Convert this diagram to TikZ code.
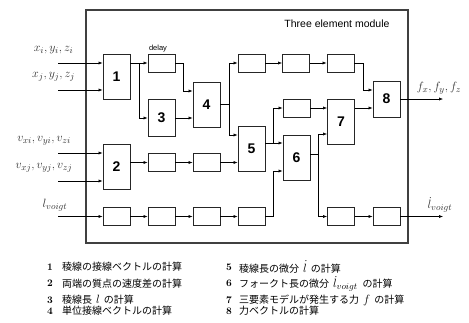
\documentclass[tikz,border=0pt]{standalone}
\usepackage{fontspec}
\newfontfamily\jp{Noto Sans CJK JP}
\newfontfamily\hel{Liberation Sans}
\usetikzlibrary{arrows.meta,calc}
\begin{document}
\begin{tikzpicture}[x=1pt,y=-1pt,
  blk/.style={draw=black!85, line width=0.9pt, minimum width=27pt, minimum height=45pt, inner sep=0pt,
    font=\hel\bfseries\fontsize{14}{14}\selectfont},
  sbox/.style={draw=black!85, line width=0.9pt, minimum width=27pt, minimum height=18pt, inner sep=0pt},
  conn/.style={line width=0.6pt, -{Latex[length=4pt,width=3.2pt]}},
  wire/.style={line width=0.6pt},
  mlab/.style={font=\fontsize{13}{15}\selectfont, inner sep=0pt, text=black!80},
  legnum/.style={anchor=west, inner sep=0pt, font=\bfseries\fontsize{10}{12}\selectfont},
  leg/.style={anchor=west, inner sep=0pt, font=\jp\fontsize{10}{12}\selectfont}]
\useasboundingbox (0,0) rectangle (469,322);

% frame
\node[draw=black!75, line width=1.3pt, minimum width=322pt, minimum height=233pt, inner sep=0pt] (frame) at (247,126.5) {};
\node[font=\hel\fontsize{10.5}{12}\selectfont, inner sep=0pt] (title) at (337,24) {Three element module};

% blocks
\node[blk] (B1) at (116.5,76.5) {1};
\node[blk] (B2) at (116.5,166.5) {2};
\node[blk, minimum height=37pt] (B3) at (161.5,118) {3};
\node[blk] (B4) at (206.5,104.5) {4};
\node[blk] (B5) at (251.5,148.5) {5};
\node[blk] (B6) at (296.5,157.5) {6};
\node[blk] (B7) at (341,121.5) {7};
\node[blk, minimum height=36pt] (B8) at (386.5,99) {8};

% small boxes
\node[sbox] (D) at (161.5,63) {};
\node[font=\hel\fontsize{7.5}{8}\selectfont, inner sep=0pt] (dl) at (158,49) {delay};
\node[sbox] (T1) at (251.5,63) {};
\node[sbox] (T2) at (296,63) {};
\node[sbox] (T3) at (340.5,63) {};
\node[sbox] (C) at (296.5,108) {};
\node[sbox] (V1) at (161.5,162.5) {};
\node[sbox] (V2) at (206.5,162.5) {};
\node[sbox] (L1) at (116.5,216.5) {};
\node[sbox] (L2) at (161.5,216.5) {};
\node[sbox] (L3) at (206.5,216.5) {};
\node[sbox] (L4) at (251.5,216.5) {};
\node[sbox] (L5) at (341,216.5) {};
\node[sbox] (L6) at (386.5,216.5) {};

% input / output coordinates
\coordinate (i1) at (58,63);
\coordinate (i2) at (58,90);
\coordinate (i3) at (58,153);
\coordinate (i4) at (58,181);
\coordinate (i5) at (58,216.5);
\coordinate (o1) at (443,99);
\coordinate (o2) at (443,216.5);
\coordinate (j1) at (139,63);
\coordinate (j2) at (229,104.5);
\coordinate (j3) at (273,143);
\coordinate (j4) at (318,154);

% labels
\node[mlab] (lx1) at (53.5,50) {$x_i, y_i, z_i$};
\node[mlab] (lx2) at (53.5,77) {$x_j, y_j, z_j$};
\node[mlab] (lv1) at (44,141) {$v_{xi}, v_{yi}, v_{zi}$};
\node[mlab] (lv2) at (44,168) {$v_{xj}, v_{yj}, v_{zj}$};
\node[mlab] (ll) at (55,205) {$l_{voigt}$};
\node[mlab] (lf) at (439,88) {$f_x, f_y, f_z$};
\node[mlab] (ld) at (440,204.5) {$\dot{l}_{voigt}$};

% connectors
\draw[conn] (i1) -- (i1 -| B1.west);
\draw[conn] (i2) -- (i2 -| B1.west);
\draw[conn] (B1.east |- D.west) -- (D.west);
\draw[conn] (j1) |- (B3.west);
\draw[conn] (D.east) -- (183,63) |- (B4.west |- 0,91);
\draw[conn] (B3.east) -- (B4.west |- B3.east);
\draw[wire] (B4.east) -- (j2);
\draw[conn] (j2) |- (T1.west);
\draw[conn] (j2) |- (B5.west |- 0,135);
\draw[conn] (T1.east) -- (T2.west);
\draw[conn] (T2.east) -- (T3.west);
\draw[conn] (T3.east) -- (363,63) |- (B8.west |- 0,90);
\draw[conn] (B8.east) -- (o1);

\draw[conn] (i3) -- (i3 -| B2.west);
\draw[conn] (i4) -- (i4 -| B2.west);
\draw[conn] (B2.east |- V1.west) -- (V1.west);
\draw[conn] (V1.east) -- (V2.west);
\draw[conn] (V2.east) -- (B5.west |- V2.east);
\draw[conn] (B5.east |- j3) -- (B6.west |- j3);
\draw[conn] (j3) |- (C.west);
\draw[conn] (C.east) -- (B7.west |- C.east);
\draw[conn] (B7.east |- 0,108) -- (B8.west |- 0,108);

\draw[conn] (i5) -- (L1.west);
\draw[conn] (L1.east) -- (L2.west);
\draw[conn] (L2.east) -- (L3.west);
\draw[conn] (L3.east) -- (L4.west);
\draw[conn] (L4.east) -- (273,216.5) |- (B6.west |- 0,171);
\draw[wire] (B6.east |- j4) -- (j4);
\draw[conn] (j4) |- (B7.west |- 0,134);
\draw[conn] (j4) |- (L5.west);
\draw[conn] (L5.east) -- (L6.west);
\draw[conn] (L6.east) -- (o2);

% legend
\node[legnum] (n1) at (47,267) {1};
\node[leg] (t1) at (62,267) {稜線の接線ベクトルの計算};
\node[legnum] (n2) at (47,283.5) {2};
\node[leg] (t2) at (62,283.5) {両端の質点の速度差の計算};
\node[legnum] (n3) at (47,300) {3};
\node[leg] (t3) at (62,300) {稜線長\hspace{4pt}{\fontsize{12}{12}\selectfont$l$}\hspace{4pt}の計算};
\node[legnum] (n4) at (47,311) {4};
\node[leg] (t4) at (62,311) {単位接線ベクトルの計算};
\node[legnum] (n5) at (226,267) {5};
\node[leg] (t5) at (239,267) {稜線長の微分\hspace{4pt}{\fontsize{12}{12}\selectfont$\dot{l}$}\hspace{4pt}の計算};
\node[legnum] (n6) at (226,283.5) {6};
\node[leg] (t6) at (239,283.5) {フォークト長の微分\hspace{4pt}{\fontsize{13}{13}\selectfont$\dot{l}_{voigt}$}\hspace{5pt}の計算};
\node[legnum] (n7) at (226,300) {7};
\node[leg] (t7) at (239,300) {三要素モデルが発生する力\hspace{4pt}{\fontsize{12}{12}\selectfont$f$}\hspace{4pt}の計算};
\node[legnum] (n8) at (226,311) {8};
\node[leg] (t8) at (239,311) {力ベクトルの計算};
\end{tikzpicture}
\end{document}
